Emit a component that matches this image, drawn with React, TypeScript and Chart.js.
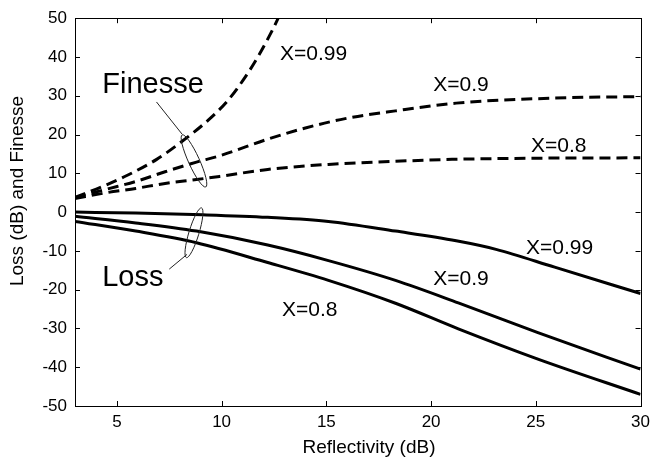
import React, { useEffect, useRef } from "react";
import { Chart, registerables } from "chart.js";

Chart.register(...registerables);

// ---- data ----
const xTicks = [5, 10, 15, 20, 25, 30];
const yTicks = [-50, -40, -30, -20, -10, 0, 10, 20, 30, 40, 50];

const finesse099X = [3, 4.4, 5.5, 6.9, 8.1, 9.4, 10.3, 11.1, 11.75, 12.2, 12.7, 13.1];
const finesse099Y = [3.8, 6.8, 9.5, 13.6, 18.2, 23.9, 28.8, 34.6, 40.2, 44.6, 50, 55];

const finesse09X = [3, 4.5, 5.9, 7.3, 8.8, 9.9, 12.2, 14.0, 15.9, 18.3, 21.2, 25.9, 30];
const finesse09Y = [3.7, 5.9, 7.9, 10.4, 12.9, 14.5, 18.8, 21.7, 24.1, 26.1, 28.1, 29.4, 29.8];

const finesse08X = [3, 4.5, 5.9, 7.3, 8.8, 9.9, 12.2, 15.1, 18.3, 21.0, 25, 30];
const finesse08Y = [3.5, 5.0, 6.1, 7.4, 8.4, 9.2, 11.0, 12.3, 13.1, 13.6, 13.9, 14.0];

const loss099X = [3, 5.9, 9.1, 12.2, 15.1, 18.3, 21.2, 23.1, 25.9, 30];
const loss099Y = [0, -0.25, -0.7, -1.35, -2.4, -4.9, -7.4, -9.6, -14.2, -21];

const loss09X = [3, 5.9, 8.8, 12.2, 15.1, 18.3, 21.3, 25.1, 30];
const loss09Y = [-1.1, -2.8, -4.9, -8.5, -12.5, -17.6, -23.4, -31.1, -40.5];

const loss08X = [3, 5.9, 8.8, 12.2, 15.1, 18.3, 21.3, 25.1, 30];
const loss08Y = [-2.4, -4.9, -7.9, -13.0, -17.6, -23.5, -30.1, -37.9, -47];

// curve labels in data units (left / baseline)
const curveLabelText = ["X=0.99", "X=0.9", "X=0.8", "X=0.99", "X=0.9", "X=0.8"];
const curveLabelX = [12.79, 20.1, 24.77, 24.53, 20.1, 12.88];
const curveLabelY = [39.2, 31.3, 15.4, -10.8, -18.7, -26.8];

const groupLabelText = ["Finesse", "Loss"];
const groupLabelX = [4.3, 4.3];
const groupLabelY = [30.7, -19.0];

const xTitle = "Reflectivity (dB)";
const yTitle = "Loss (dB) and Finesse";

const FONT = "'Liberation Sans', Arial, Helvetica, sans-serif";

const pts = (xs: number[], ys: number[]) => xs.map((x, i) => ({ x, y: ys[i] }));

const overlay = {
  id: "overlay",
  afterDatasetsDraw(chart: any) {
    const { ctx, chartArea: a, scales } = chart;
    const xs = scales.x;
    const ys = scales.y;
    const X = (v: number) => xs.getPixelForValue(v);
    const Y = (v: number) => ys.getPixelForValue(v);
    ctx.save();
    ctx.strokeStyle = "#000";
    ctx.lineWidth = 1;
    ctx.strokeRect(Math.round(a.left) + 0.5, Math.round(a.top) + 0.5, Math.round(a.right - a.left), Math.round(a.bottom - a.top));
    const tl = 5;
    ctx.beginPath();
    xTicks.forEach((v) => {
      const p = Math.round(X(v)) + 0.5;
      ctx.moveTo(p, a.bottom);
      ctx.lineTo(p, a.bottom - tl);
      ctx.moveTo(p, a.top);
      ctx.lineTo(p, a.top + tl);
    });
    yTicks.forEach((v) => {
      const p = Math.round(Y(v)) + 0.5;
      ctx.moveTo(a.left, p);
      ctx.lineTo(a.left + tl, p);
      ctx.moveTo(a.right, p);
      ctx.lineTo(a.right - tl, p);
    });
    ctx.stroke();

    // leader lines and ellipses
    ctx.strokeStyle = "#222";
    ctx.lineWidth = 1;
    ctx.beginPath();
    ctx.moveTo(X(6.89), Y(28.4));
    ctx.lineTo(X(8.12), Y(20.05));
    ctx.moveTo(X(7.5), Y(-14.7));
    ctx.lineTo(X(8.35), Y(-10.9));
    ctx.stroke();
    ctx.beginPath();
    ctx.ellipse(X(8.68), Y(13.2), 28.6, 5.5, (65.6 * Math.PI) / 180, 0, Math.PI * 2);
    ctx.stroke();
    ctx.beginPath();
    ctx.ellipse(X(8.68), Y(-5.33), 26, 5, (107 * Math.PI) / 180, 0, Math.PI * 2);
    ctx.stroke();

    // texts
    ctx.fillStyle = "#000";
    ctx.textAlign = "left";
    ctx.textBaseline = "alphabetic";
    ctx.font = `21px ${FONT}`;
    curveLabelText.forEach((t, i) => ctx.fillText(t, X(curveLabelX[i]), Y(curveLabelY[i])));
    ctx.font = `29px ${FONT}`;
    groupLabelText.forEach((t, i) => ctx.fillText(t, X(groupLabelX[i]), Y(groupLabelY[i])));

    // axis titles
    ctx.font = `19px ${FONT}`;
    ctx.textAlign = "center";
    ctx.textBaseline = "middle";
    ctx.fillText(xTitle, 369, 448);
    ctx.translate(18, 191);
    ctx.rotate(-Math.PI / 2);
    ctx.fillText(yTitle, 0, 0);
    ctx.restore();
  },
};

export default function App() {
  const ref = useRef<HTMLCanvasElement | null>(null);
  useEffect(() => {
    if (!ref.current) return;
    const solid = { borderColor: "#000", borderWidth: 3, pointRadius: 0, cubicInterpolationMode: "monotone" as const, fill: false };
    const dashed = { ...solid, borderDash: [11, 6] };
    const chart = new Chart(ref.current, {
      type: "line",
      data: {
        datasets: [
          { label: "Finesse X=0.99", data: pts(finesse099X, finesse099Y), ...dashed },
          { label: "Finesse X=0.9", data: pts(finesse09X, finesse09Y), ...dashed },
          { label: "Finesse X=0.8", data: pts(finesse08X, finesse08Y), ...dashed },
          { label: "Loss X=0.99", data: pts(loss099X, loss099Y), ...solid },
          { label: "Loss X=0.9", data: pts(loss09X, loss09Y), ...solid },
          { label: "Loss X=0.8", data: pts(loss08X, loss08Y), ...solid },
        ],
      },
      options: {
        responsive: false,
        animation: false,
        devicePixelRatio: 1,
        layout: { padding: { top: 12, right: 9, left: 0, bottom: 0 } },
        plugins: { legend: { display: false }, tooltip: { enabled: false } },
        scales: {
          x: {
            type: "linear",
            min: 3,
            max: 30,
            grid: { display: false, drawTicks: false },
            border: { display: false },
            ticks: { color: "#000", padding: 6, font: { family: FONT, size: 17 } },
            afterBuildTicks: (s: any) => { s.ticks = xTicks.map((v) => ({ value: v })); },
            afterFit: (s: any) => { s.height = 60; },
          },
          y: {
            type: "linear",
            min: -50,
            max: 50,
            grid: { display: false, drawTicks: false },
            border: { display: false },
            ticks: { color: "#000", padding: 8, font: { family: FONT, size: 17 } },
            afterBuildTicks: (s: any) => { s.ticks = yTicks.map((v) => ({ value: v })); },
            afterFit: (s: any) => { s.width = 75; },
          },
        },
      },
      plugins: [overlay],
    });
    return () => chart.destroy();
  }, []);
  return (
    <div style={{ position: "fixed", left: 0, top: 0, width: 656, height: 466, background: "#fff" }}>
      <canvas ref={ref} width={656} height={466} style={{ display: "block" }} />
    </div>
  );
}
